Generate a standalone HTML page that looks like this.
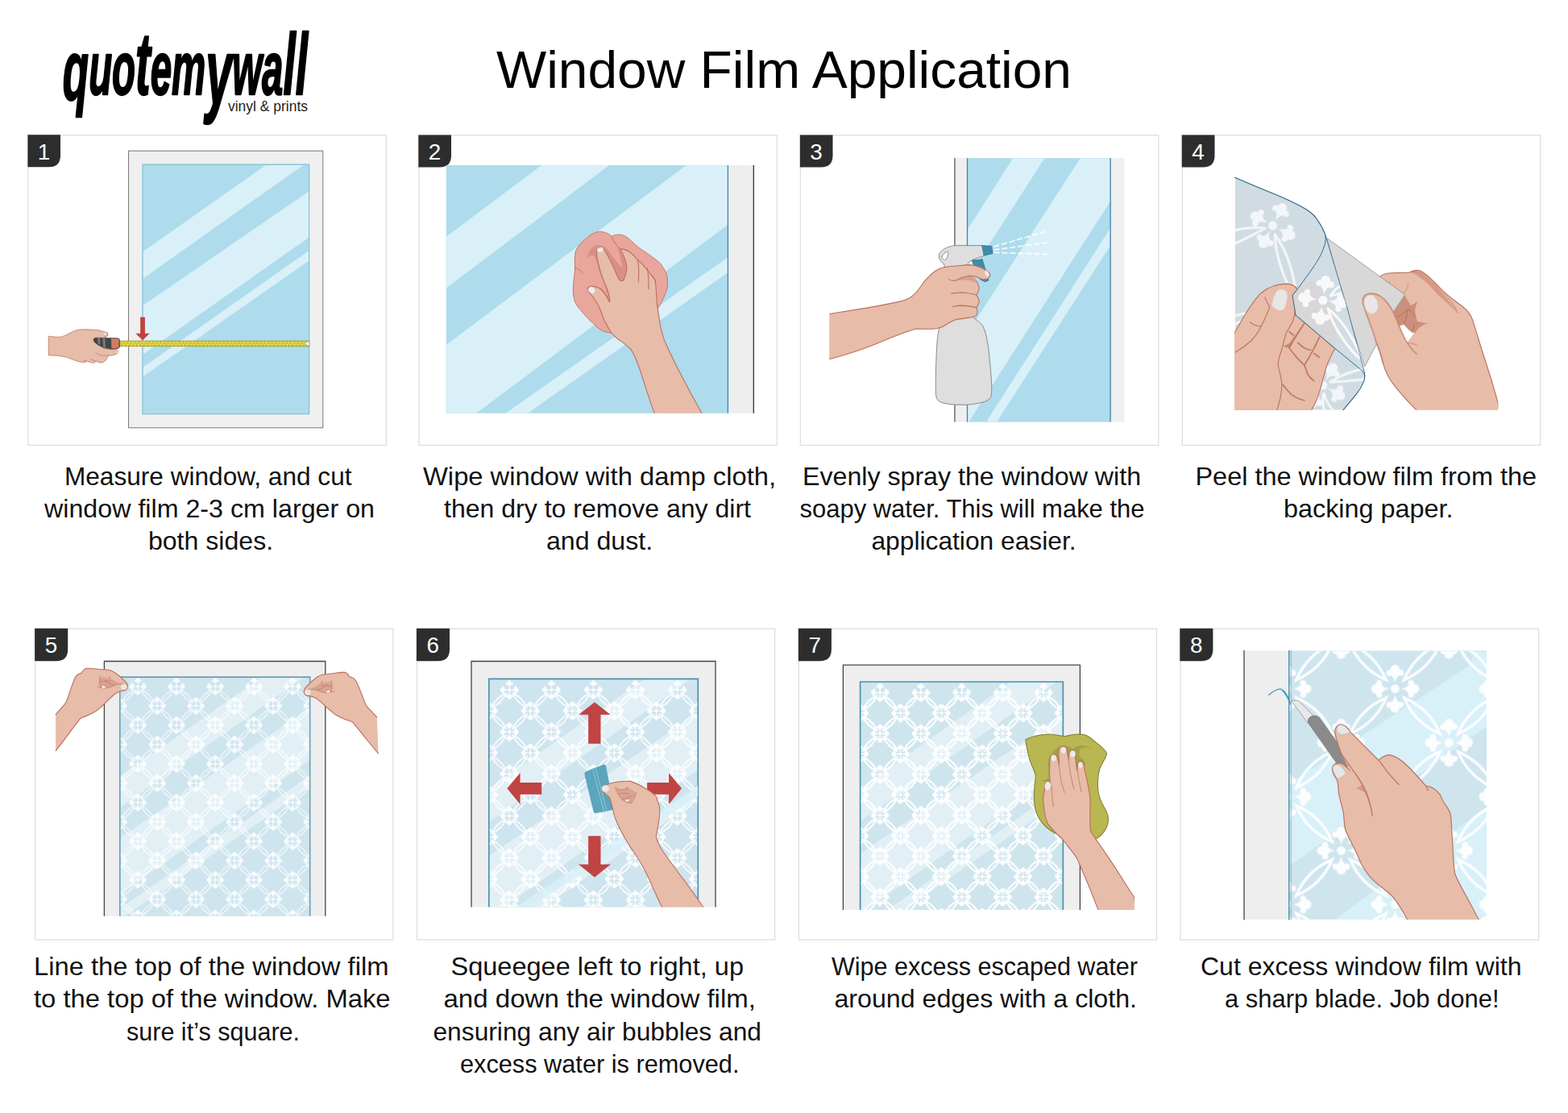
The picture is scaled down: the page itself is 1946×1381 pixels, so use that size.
<!DOCTYPE html>
<html lang="en">
<head>
<meta charset="utf-8">
<title>Window Film Application</title>
<style>
html,body{margin:0;padding:0;background:#fff;}
body{width:1946px;height:1381px;overflow:hidden;}
svg{display:block;}
text{font-family:"Liberation Sans",sans-serif;}
</style>
</head>
<body>
<svg width="1946" height="1381" viewBox="0 0 1946 1381">

<!-- defs -->
<defs>
  <path id="petal" d="M2.5,0 C4.5,-0.4 5.5,-1 6,-2 C5.6,-2.6 5.7,-3.4 6.4,-3.8 C7.2,-4.1 8.1,-3.8 8.4,-3 C8.6,-2.6 8.5,-2.3 8.4,-2 C9.2,-2.2 10.2,-1.6 10.5,-0.8 C10.7,-0.3 10.7,0.3 10.5,0.8 C10.2,1.6 9.2,2.2 8.4,2 C8.5,2.3 8.6,2.6 8.4,3 C8.1,3.8 7.2,4.1 6.4,3.8 C5.7,3.4 5.6,2.6 6,2 C5.5,1 4.5,0.4 2.5,0 Z"/>
  <g id="flower" fill="#fff">
    <circle r="1.95"/>
    <use href="#petal"/>
    <use href="#petal" transform="rotate(90)"/>
    <use href="#petal" transform="rotate(180)"/>
    <use href="#petal" transform="rotate(270)"/>
  </g>
  <g id="flowerS" fill="#fff">
    <circle r="1.8"/>
    <rect x="-6" y="-0.4" width="12" height="0.8"/>
    <rect x="-0.4" y="-6" width="0.8" height="12"/>
    <use href="#petal" transform="scale(1,1.15)"/>
    <use href="#petal" transform="rotate(90) scale(1,1.15)"/>
    <use href="#petal" transform="rotate(180) scale(1,1.15)"/>
    <use href="#petal" transform="rotate(270) scale(1,1.15)"/>
  </g>
  <path id="lens" d="M4,4 A30.2,30.2 0 0 1 20,20 A30.2,30.2 0 0 1 4,4 Z" fill="none" stroke="#fff" stroke-linejoin="miter" stroke-miterlimit="10"/>
  <g id="lenses">
    <use href="#lens"/>
    <use href="#lens" transform="translate(24,24)"/>
    <use href="#lens" transform="translate(48,0) scale(-1,1)"/>
    <use href="#lens" transform="translate(24,24) scale(-1,1)"/>
  </g>
  <g id="tile" stroke-width="1.25">
    <use href="#flower" x="0" y="0"/>
    <use href="#flower" x="48" y="0"/>
    <use href="#flower" x="0" y="48"/>
    <use href="#flower" x="48" y="48"/>
    <use href="#flower" x="24" y="24"/>
    <use href="#lenses"/>
  </g>
  <g id="tileF">
    <use href="#flowerS" x="0" y="0"/>
    <use href="#flowerS" x="48" y="0"/>
    <use href="#flowerS" x="0" y="48"/>
    <use href="#flowerS" x="48" y="48"/>
    <use href="#flowerS" x="24" y="24"/>
  </g>
  <g id="tileL"><use href="#lenses"/></g>
</defs>

<!-- header -->
<g id="logo" transform="translate(77.75,117) scale(0.5099,1)" fill="#000" stroke="#000" stroke-linejoin="round" stroke-width="2.4">
  <text x="0" y="0" font-size="93" font-weight="bold" font-style="italic"><tspan font-size="104" dy="6">q</tspan><tspan dy="-6">uo</tspan><tspan font-size="110">t</tspan>em<tspan font-size="116" dy="13">y</tspan><tspan dy="-13">wa</tspan><tspan font-size="108">ll</tspan></text>
</g>
<text id="logosub" x="283" y="137.5" font-size="19" textLength="99" lengthAdjust="spacingAndGlyphs" fill="#222">vinyl &amp; prints</text>
<text id="title" x="616" y="109" font-size="65.6" textLength="714" lengthAdjust="spacingAndGlyphs" fill="#000">Window Film Application</text>

<!-- p1 -->
<g id="p1">
  <rect x="35" y="167.8" width="444.3" height="384.7" fill="#fff" stroke="#dcdcdc" stroke-width="1.2"/>
  <path d="M34.4,167.2 H75 V193 Q75,207.3 60.5,207.3 H34.4 Z" fill="#2d2d2d"/>
  <text x="54.5" y="197.5" font-size="27.8" fill="#fff" text-anchor="middle">1</text>
  <rect x="159.5" y="187.2" width="241.3" height="343.6" fill="#efefef" stroke="#808080" stroke-width="1.1"/>
  <rect x="176.9" y="204" width="206.8" height="309.7" fill="#aedcec"/>
  <g transform="translate(30,160) scale(0.28966)" fill="#d9f0f8">
    <path d="M1035,155 L1195,155 L510,640 L510,525 Z"/>
    <path d="M1219,268 L1219,465 L510,965 L510,755 Z"/>
    <path d="M1219,522 L1219,565 L510,1060 L510,1020 Z"/>
  </g>
  <rect x="176.9" y="204" width="206.8" height="309.7" fill="none" stroke="#6bb4cf" stroke-width="0.9"/>
  <!-- hand + tape -->
  <g transform="translate(50,380) scale(0.08222)">
    <!-- tape -->
    <rect x="1190" y="523" width="2870" height="82" fill="#e6d83f" stroke="#8f8428" stroke-width="8"/>
    <path d="M1190,564 H4060" stroke="#b5a82e" stroke-width="6" fill="none"/>
    <path d="M1210,528 V556 M1210,572 V600" stroke="#8f8428" stroke-width="9" stroke-dasharray="9 47" fill="none" transform="rotate(0)"/>
    <g stroke="#8f8428" stroke-width="8" fill="none">
      <path d="M1200,538 H4050" stroke-dasharray="8 48" stroke-width="26"/>
      <path d="M1228,592 H4050" stroke-dasharray="8 48" stroke-width="26"/>
    </g>
    <path d="M4060,523 L3975,564 L4060,605 Z" fill="#fff" stroke="#8f8428" stroke-width="7"/>
    <!-- hand -->
    <path d="M125,452 C200,462 270,468 320,462 C400,440 470,380 560,358 C620,345 760,350 850,358 C900,360 960,385 1000,395 C1025,405 1025,445 995,462 L960,470 L960,640 L1150,655 C1185,665 1185,700 1150,720 C1110,740 1060,745 1020,745 C1025,765 1000,810 960,840 C940,852 915,852 900,850 L840,830 C830,850 815,858 800,855 L700,830 C680,845 660,848 640,845 L560,830 C500,810 450,785 400,770 C350,758 300,748 250,745 L125,740 Z" fill="#e7bca9" stroke="#c17f6b" stroke-width="11" stroke-linejoin="round"/>
    <path d="M840,705 C880,725 920,745 950,745 L1020,745 M760,800 L840,830 M660,820 L700,830" fill="none" stroke="#c17f6b" stroke-width="10" stroke-linecap="round"/>
    <!-- case -->
    <path d="M835,476 L1165,482 Q1197,485 1197,512 L1197,608 Q1197,634 1165,638 L1075,646 L960,626 C900,600 830,560 806,522 C798,497 812,479 835,476 Z" fill="#444" stroke="#333" stroke-width="8"/>
    <path d="M862,478 h38 L905,585 L870,565 Z" fill="#7a7a7a"/>
    <path d="M938,480 h40 L985,628 L950,616 Z" fill="#7a7a7a"/>
    <path d="M1070,486 L1165,490 Q1188,492 1188,512 V606 Q1188,628 1165,630 L1075,638 Z" fill="#d57867"/>
    <path d="M960,470 L995,462 C1025,445 1025,405 1000,395" fill="none" stroke="#c17f6b" stroke-width="10"/>
    <path d="M955,412 Q960,398 985,402 Q1003,408 998,425 Q985,432 962,426 Z" fill="#e9e9ee"/>
    <path d="M1150,668 Q1172,672 1170,690 Q1165,708 1148,712 Z" fill="#efe9ea"/>
    <!-- arrow -->
    <path d="M1510,165 H1580 V410 H1648 L1545,515 L1440,410 H1510 Z" fill="#c44040"/>
  </g>
</g>

<!-- p2 -->
<g id="p2">
  <rect x="519.9" y="167.8" width="444.3" height="384.7" fill="#fff" stroke="#dcdcdc" stroke-width="1.2"/>
  <path d="M519.3,167.6 H560 V193 Q560,207.5 545.5,207.5 H519.3 Z" fill="#2d2d2d"/>
  <text x="539.5" y="197.5" font-size="27.8" fill="#fff" text-anchor="middle">2</text>
  <rect x="553.7" y="204.9" width="349.7" height="307.9" fill="#aedcec"/>
  <g transform="translate(510,160) scale(0.28966)" fill="#d9f0f8">
    <path d="M560,155 L850,155 L151,682 L151,462 Z"/>
    <path d="M1180,155 L1358,155 L1358,410 L280,1218 L151,1218 L151,925 Z"/>
    <path d="M1358,550 L1358,615 L500,1218 L405,1218 Z"/>
  </g>
  <rect x="903.4" y="204.9" width="31.9" height="307.9" fill="#eeeeee"/>
  <path d="M903.4,204.9 V512.8" stroke="#3c87ab" stroke-width="1.3" fill="none"/>
  <path d="M935.3,204.9 V512.8" stroke="#333" stroke-width="1.3" fill="none"/>
  <clipPath id="c2"><rect x="553.7" y="204.9" width="349.7" height="307.9"/></clipPath>
  <g clip-path="url(#c2)"><g transform="translate(690,270) scale(0.181)" stroke-linejoin="round" stroke-linecap="round">
    <!-- cloth -->
    <path d="M135,230 C150,195 175,170 200,150 C230,125 260,100 290,97 C320,94 360,105 383,130 C400,115 450,110 480,130 C510,150 535,180 560,200 C590,225 615,235 640,255 C680,285 705,300 720,320 C745,355 765,390 765,430 C768,470 760,495 750,520 C735,560 720,590 700,620 L600,800 L385,790 C360,790 345,785 330,780 C305,770 285,755 270,740 C245,715 220,695 200,670 C165,630 135,600 125,560 C115,520 118,490 120,450 C122,410 132,370 130,330 C128,290 128,260 135,230 Z" fill="#e9a69c" stroke="#c46e61" stroke-width="5"/>
    <path d="M132,345 C150,350 170,362 185,378" fill="none" stroke="#c46e61" stroke-width="5"/>
    <path d="M383,130 C390,160 410,185 440,215" fill="none" stroke="#c46e61" stroke-width="5"/>
    <path d="M212,280 C220,240 240,200 270,192 C300,185 330,195 350,215 C390,260 430,330 470,360 L470,420 L440,440 L370,580 L330,450 C300,400 290,330 262,262 C240,250 225,265 212,280 Z" fill="#d98f85"/>
    <path d="M400,150 C420,200 470,250 485,330 L470,420 C455,300 430,230 400,150 Z" fill="#d98f85"/>
    <!-- hand -->
    <path d="M222,478 C235,468 270,470 295,482 C325,500 350,540 368,578 C372,560 360,500 330,440 C310,390 295,340 285,290 C280,260 275,240 282,222 C292,205 320,205 335,225 C355,260 375,300 390,330 C405,365 420,400 430,420 C438,435 455,440 465,425 C480,390 488,360 485,330 C480,290 460,250 442,215 C470,215 490,225 505,235 C530,255 545,270 560,290 C580,305 595,320 605,335 C620,350 640,375 650,390 C665,405 678,420 680,435 C688,480 688,520 690,560 C692,590 696,615 700,640 C706,680 712,720 720,760 C730,810 745,850 760,880 C830,1030 920,1200 1000,1340 L1040,1420 L700,1420 L675,1340 C655,1290 640,1240 620,1180 C600,1120 580,1050 560,1000 C545,960 530,925 510,900 C490,880 470,865 450,850 C425,835 400,815 380,790 C360,760 345,730 330,700 C318,670 305,630 290,600 C275,570 262,555 250,540 C235,520 222,505 218,495 C215,488 217,482 222,478 Z" fill="#e7bca9" stroke="#b9705d" stroke-width="6"/>
    <path d="M560,290 C572,340 568,400 565,440 M625,345 C636,390 636,450 635,490 M650,390 C670,410 680,420 683,440" fill="none" stroke="#b9705d" stroke-width="6"/>
    <path d="M368,578 C350,540 330,500 300,485" fill="none" stroke="#b9705d" stroke-width="6"/>
    <ellipse cx="303" cy="221" rx="22" ry="15" fill="#ededed" transform="rotate(-20 303 221)"/>
    <ellipse cx="245" cy="497" rx="24" ry="20" fill="#ededed" transform="rotate(40 245 497)"/>
  </g></g>
</g>

<!-- p3 -->
<g id="p3">
  <rect x="993.4" y="167.8" width="444.4" height="384.7" fill="#fff" stroke="#dcdcdc" stroke-width="1.2"/>
  <path d="M992.8,167.6 H1033.5 V193 Q1033.5,207.5 1019,207.5 H992.8 Z" fill="#2d2d2d"/>
  <text x="1013" y="197.5" font-size="27.8" fill="#fff" text-anchor="middle">3</text>
  <rect x="1184.9" y="196.2" width="210.6" height="327.4" fill="#efefef"/>
  <rect x="1200.5" y="196.2" width="177.6" height="327.4" fill="#aedcec"/>
  <clipPath id="c3"><rect x="1200.5" y="196.2" width="177.6" height="327.4"/></clipPath>
  <g clip-path="url(#c3)"><g transform="translate(985,160) scale(0.28966)" fill="#d9f0f8">
    <path d="M940,125 L1075,125 L744,640 L744,432 Z"/>
    <path d="M1228,125 L1357,125 L1357,310 L750,1255 L744,1255 L744,875 Z"/>
    <path d="M1357,425 L1357,500 L870,1255 L825,1255 Z"/>
  </g></g>
  <path d="M1184.9,196.2 V523.6" stroke="#555" stroke-width="1.3" fill="none"/>
  <path d="M1200.5,196.2 V523.6 M1378.1,196.2 V523.6" stroke="#3c87ab" stroke-width="1.3" fill="none"/>
  <clipPath id="c3h"><rect x="1029.2" y="190" width="400" height="333.6"/></clipPath>
  <g clip-path="url(#c3h)"><g transform="translate(1020,280) scale(0.16658)" stroke-linejoin="round" stroke-linecap="round">
    <!-- spray -->
    <g fill="none" stroke="#fff" stroke-width="11" stroke-dasharray="34 26" opacity="0.85">
      <path d="M1285,155 L1665,45"/>
      <path d="M1285,180 L1690,125"/>
      <path d="M1285,200 L1690,213"/>
    </g>
    <!-- trigger -->
    <path d="M1120,258 L1195,250 L1242,408 L1215,418 L1180,400 L1130,290 Z" fill="#3d8cab" stroke="#2f7794" stroke-width="5"/>
    <!-- bottle -->
    <path d="M905,282 C880,262 868,240 872,220 C880,190 910,170 940,160 C965,152 985,148 1000,148 L1195,148 L1210,222 C1190,235 1150,240 1120,255 C1100,265 1090,275 1085,290 L1090,660 C1110,670 1125,680 1135,690 C1165,710 1190,730 1200,750 C1215,780 1225,820 1230,850 C1240,900 1246,950 1250,1000 C1258,1080 1266,1160 1265,1220 C1264,1260 1260,1280 1250,1290 C1235,1305 1210,1313 1180,1320 C1135,1330 1090,1335 1040,1335 C990,1335 940,1330 900,1320 C875,1313 860,1300 855,1285 C848,1265 848,1240 848,1220 C847,1160 848,1100 850,1050 C852,980 855,910 860,850 C864,815 868,785 875,760 L915,310 Z" fill="#dedede" stroke="#777" stroke-width="5"/>
    <path d="M893,232 C905,212 920,198 935,192 C942,198 942,208 940,215 C937,230 932,242 925,250 C918,256 910,256 906,250 C898,245 893,240 893,232 Z" fill="#fff" stroke="#777" stroke-width="5"/>
    <path d="M1195,148 L1265,152 L1272,208 L1210,222 Z" fill="#3d8cab" stroke="#2f7794" stroke-width="5"/>
    <!-- hand -->
    <path d="M-20,669 L55,657 C150,642 250,626 350,610 C430,596 510,580 580,565 C610,558 632,550 650,540 C670,528 686,514 700,500 C720,476 740,448 760,420 C790,385 820,355 850,335 C866,324 882,316 900,312 C930,306 965,302 1000,300 C1035,297 1070,292 1100,292 C1130,294 1156,300 1180,310 C1205,320 1225,332 1240,345 C1252,355 1256,366 1252,375 C1248,386 1242,392 1235,395 C1224,400 1212,402 1200,400 C1183,395 1166,386 1150,380 C1130,375 1110,374 1090,375 L1140,400 C1152,412 1160,426 1165,440 C1170,455 1172,468 1170,480 C1166,495 1158,506 1150,515 C1158,522 1162,530 1165,540 C1170,550 1174,560 1172,570 C1168,586 1160,600 1150,610 C1156,620 1160,630 1160,640 C1160,652 1156,662 1150,670 C1135,678 1118,682 1100,685 C1066,690 1030,693 1000,700 C975,708 952,722 930,735 C914,745 898,754 880,760 C860,767 840,770 820,770 L700,768 C630,790 566,814 500,840 C434,868 366,896 300,920 C220,948 138,972 55,995 L-20,1015 Z" fill="#e7bca9" stroke="#b9705d" stroke-width="6.5"/>
    <path d="M1010,408 C1040,395 1065,385 1090,375 C1110,374 1130,380 1150,400 L1140,430 C1120,405 1080,400 1010,408 Z" fill="#d9a08d"/>
    <path d="M945,400 C960,408 975,412 990,410 C1010,405 1030,392 1050,385 C1066,378 1082,375 1100,375 M965,505 C995,500 1022,498 1050,498 C1085,500 1120,508 1150,515 M975,603 C1000,598 1025,595 1050,595 C1085,597 1120,603 1150,610" fill="none" stroke="#b9705d" stroke-width="6.5"/>
    <ellipse cx="1230" cy="358" rx="14" ry="22" fill="#ededed" transform="rotate(-25 1230 358)"/>
  </g></g>
  </g>

<!-- p4 -->
<g id="p4">
  <rect x="1467.3" y="167.8" width="444.3" height="384.7" fill="#fff" stroke="#dcdcdc" stroke-width="1.2"/>
  <path d="M1466.7,167.6 H1507.5 V193 Q1507.5,207.5 1493,207.5 H1466.7 Z" fill="#2d2d2d"/>
  <text x="1487" y="197.5" font-size="27.8" fill="#fff" text-anchor="middle">4</text>
  <clipPath id="c4"><rect x="1532.7" y="205" width="326.7" height="303.8"/></clipPath>
  <g clip-path="url(#c4)" stroke-linejoin="round" stroke-linecap="round">
    <!-- right hand back -->
    <g transform="translate(1680,320) scale(0.14116)">
      <path d="M215,180 C240,150 280,135 330,133 L490,128 C520,110 560,105 590,115 C640,140 700,200 760,265 C820,330 900,385 960,430 C1000,460 1030,500 1045,545 C1080,650 1110,760 1150,880 C1190,1000 1230,1130 1268,1270 L1300,1400 L600,1400 L550,1335 C500,1290 440,1220 380,1150 C330,1090 280,1010 260,930 C245,870 225,800 200,750 L150,400 Z" fill="#e7bca9" stroke="#b9705d" stroke-width="8"/>
      <path d="M500,124 C540,120 575,122 600,135 C660,180 710,235 760,290 C810,345 865,410 915,485 C850,420 790,370 740,320 C680,260 620,180 500,124 Z" fill="#d49a86"/>
      <path d="M500,124 C560,112 600,125 640,160 C700,215 740,270 790,315 C830,350 880,400 915,485" fill="none" stroke="#b9705d" stroke-width="5"/>
      <path d="M440,310 L500,420 L565,385 C545,420 538,450 540,480 C545,510 552,535 560,560 L650,575 C620,585 598,596 580,610 C565,625 552,642 540,660 L490,640 L440,585 L400,600 L350,470 Z" fill="#cc8f7b"/>
      <path d="M400,600 L440,585 C460,610 475,628 490,640 L530,665 C510,690 490,718 470,745 C455,720 446,705 440,690 Z" fill="#fff"/>
      <path d="M380,520 C420,500 450,480 475,450 M475,450 C500,470 530,490 545,520 M475,450 C470,500 460,540 440,585 M530,590 C528,620 520,640 510,655" fill="none" stroke="#b06a58" stroke-width="6"/>
      <path d="M470,745 C500,748 530,756 555,765 M480,230 C478,260 465,285 440,310 M316,210 L320,240" fill="none" stroke="#c98672" stroke-width="6"/>
    </g>
    <g transform="translate(1520,200) scale(0.23166)">
      <!-- paper -->
      <path d="M548,412 L965,715 L905,805 L750,1100 L640,750 Z" fill="#d8d8d8" stroke="#9c9c9c" stroke-width="4"/>
      <!-- film main -->
      <clipPath id="c4f"><path d="M55,87 C140,125 230,160 300,190 C350,212 400,236 440,260 C470,280 488,298 500,320 C520,350 533,375 540,400 L588,561 L657,792 L744,1116 C752,1140 752,1160 745,1180 C735,1205 720,1230 704,1249 L634,1333 L55,1333 Z"/></clipPath>
      <path d="M55,87 C140,125 230,160 300,190 C350,212 400,236 440,260 C470,280 488,298 500,320 C520,350 533,375 540,400 L588,561 L657,792 L744,1116 C752,1140 752,1160 745,1180 C735,1205 720,1230 704,1249 L634,1333 L55,1333 Z" fill="#d0dce2"/>
      <g clip-path="url(#c4f)" opacity="0.74">
        <g transform="translate(257.6,345.2) rotate(28) scale(12.5)"><use href="#flower"/></g>
        <path d="M214,358 Q120,350 45,373 M214,360 Q140,402 45,445" fill="none" stroke="#fff" stroke-width="14"/>
        <path d="M268,392 Q272,520 342,670 M268,392 Q348,500 376,670" fill="none" stroke="#fff" stroke-width="14"/>
        <path d="M55,828 Q100,812 150,815 M55,872 Q100,848 150,838" fill="none" stroke="#fff" stroke-width="13"/>
        <g transform="translate(525.8,1200.5) rotate(30) scale(12.5)"><use href="#flower"/></g>
        <path d="M566,1181 Q652,1129 745,1112 M566,1183 Q652,1180 745,1168" fill="none" stroke="#fff" stroke-width="14"/>
        <path d="M532,1245 Q545,1300 590,1345 M528,1245 Q522,1300 535,1345" fill="none" stroke="#fff" stroke-width="13"/>
      </g>
      <path d="M55,87 C140,125 230,160 300,190 C350,212 400,236 440,260 C470,280 488,298 500,320 C520,350 533,375 540,400 L588,561 L657,792 L744,1116 C752,1140 752,1160 745,1180 C735,1205 720,1230 704,1249 L634,1333" fill="none" stroke="#24627f" stroke-width="4.5"/>
    </g>
    <!-- left hand -->
    <g transform="translate(1525,330) scale(0.13393)">
      <path d="M400,630 L620,455 L985,765 C965,795 950,825 940,850 C922,885 910,918 900,950 C885,1000 872,1050 860,1100 C845,1150 828,1205 810,1250 L745,1380 L300,1380 Z" fill="#e7bca9" stroke="#b9705d" stroke-width="8"/>
      <path d="M700,530 C665,585 630,640 600,690 C585,715 572,740 560,760 C540,760 520,752 500,740 C530,735 555,725 570,705 C610,650 650,590 700,530 Z" fill="#c98672"/>
      <path d="M700,530 C665,585 630,640 600,690 L560,760 C590,800 615,832 640,860 C660,880 680,900 700,920 C712,945 722,972 730,1000 C745,1025 765,1048 790,1065 M700,920 C725,880 748,840 770,800 C795,755 818,708 840,660 M640,710 C660,732 680,748 700,760 C720,770 740,777 760,780 M560,610 L600,640 M790,810 L840,845 M500,1100 C525,1135 552,1165 580,1190 C620,1220 660,1238 700,1245" fill="none" stroke="#c07a66" stroke-width="13"/>
      <path d="M60,610 C120,500 200,350 300,250 C360,200 450,165 540,165 C590,170 620,190 635,215 L590,275 C605,300 615,340 615,380 C615,440 605,480 590,520 C570,560 545,590 530,630 C510,690 500,740 490,780 C470,830 455,870 458,920 C465,980 490,1030 492,1100 C490,1200 470,1280 430,1380 L0,1380 L0,700 Z" fill="#e7bca9" stroke="#b9705d" stroke-width="8"/>
      <path d="M60,800 C110,770 160,735 200,700 C240,660 275,612 300,560 C330,500 360,440 380,380 C360,350 345,320 335,290 M195,520 C215,535 232,545 250,550 C268,556 285,560 300,560" fill="none" stroke="#b9705d" stroke-width="8"/>
      <path d="M400,365 C405,320 420,270 445,235 C465,215 490,212 510,222 C535,235 545,260 542,290 C538,330 528,365 515,395 C500,410 480,414 460,410 C435,400 412,385 400,365 Z" fill="#e6e6e6"/>
    </g>
    <!-- peeled corner -->
    <g transform="translate(1520,200) scale(0.23166)">
      <clipPath id="c4p"><path d="M540,400 C546,440 520,500 480,560 C440,620 400,670 363,720 L380,824 L591,1003 L715,1105 C735,1120 748,1135 751,1151 L744,1116 L657,792 L588,561 Z"/></clipPath>
      <path d="M363,720 C380,690 400,665 440,650 C470,640 500,655 515,680 C530,720 560,760 580,800 C600,850 605,900 600,950 L591,1003 L380,824 Z" fill="#dccccc"/>
      <path d="M540,400 C546,440 520,500 480,560 C440,620 400,670 363,720 L380,824 L591,1003 L715,1105 C735,1120 748,1135 751,1151 L744,1116 L657,792 L588,561 Z" fill="#d3dee4" opacity="0.55"/>
      <g clip-path="url(#c4p)" opacity="0.82">
        <g transform="translate(525.8,745.4) rotate(8) scale(12.5)"><use href="#flower"/></g>
        <path d="M553,790 C580,889 652,987 717,1053 M553,790 C630,850 685,943 730,1042" fill="none" stroke="#fff" stroke-width="14"/>
        <path d="M566,718 Q590,690 612,672 M568,722 Q600,712 622,706" fill="none" stroke="#fff" stroke-width="12"/>
      </g>
      <path d="M540,400 C546,440 520,500 480,560 C440,620 400,670 363,720 L380,824 L591,1003 L715,1105 C735,1120 748,1135 751,1151" fill="none" stroke="#24627f" stroke-width="4"/>
    </g>
    <!-- right thumb -->
    <g transform="translate(1680,320) scale(0.14116)">
      <path d="M555,845 C535,830 520,815 510,800 C495,782 482,765 470,745 C458,725 448,708 440,690 C425,660 412,630 400,600 C385,560 368,520 350,480 C335,450 318,425 300,400 C282,375 262,355 240,340 C220,325 200,318 180,315 C162,313 145,313 130,315 C112,320 98,328 90,340 C80,355 78,372 80,390 C83,408 88,425 95,440 C105,475 117,508 130,540 C142,578 155,615 170,650 C180,685 190,718 200,750 C225,800 245,870 260,930 L700,900 Z" fill="#e7bca9"/>
      <path d="M555,845 C535,830 520,815 510,800 C495,782 482,765 470,745 C458,725 448,708 440,690 C425,660 412,630 400,600 C385,560 368,520 350,480 C335,450 318,425 300,400 C282,375 262,355 240,340 C220,325 200,318 180,315 C162,313 145,313 130,315 C112,320 98,328 90,340 C80,355 78,372 80,390 C83,408 88,425 95,440 C105,475 117,508 130,540 C142,578 155,615 170,650 C180,685 190,718 200,750 C225,800 245,870 260,930" fill="none" stroke="#b9705d" stroke-width="8"/>
      <ellipse cx="152" cy="408" rx="60" ry="82" fill="#e8e8e8" transform="rotate(-12 152 408)"/>
    </g>
  </g>
</g>

<!-- p5 -->
<g id="p5" stroke-linejoin="round" stroke-linecap="round">
<rect x="43.7" y="780.2" width="444.2" height="385.9" fill="#fff" stroke="#dcdcdc" stroke-width="1.2"/>
<path d="M43.1,779.8 h41.1 v26 q0,14.4 -14.5,14.4 h-26.6 Z" fill="#2d2d2d"/>
<text x="63.5" y="809.9" font-size="27.8" fill="#fff" text-anchor="middle">5</text>
<rect x="129.4" y="820.5" width="274.4" height="316.3" fill="#eeeeee"/>
<path d="M129.4,1136.8 V820.5 H403.8 V1136.8" fill="none" stroke="#444" stroke-width="1.3" stroke-linejoin="miter" stroke-linecap="butt"/>
<clipPath id="cf5"><rect x="148.8" y="840.1" width="235.9" height="296.7"/></clipPath>
<rect x="148.8" y="840.1" width="235.9" height="296.7" fill="#cee5ee"/>
<g clip-path="url(#cf5)"><g transform="translate(148.8,840.1) scale(1.1407) translate(-176.9,-204)" fill="#e2f0f6">
<g transform="translate(30,160) scale(0.28966)"><path d="M1035,155 L1195,155 L510,640 L510,525 Z"/><path d="M1219,268 L1219,465 L510,965 L510,755 Z"/><path d="M1219,522 L1219,565 L510,1060 L510,1020 Z"/></g></g>
<pattern id="patF5" width="48" height="48" patternUnits="userSpaceOnUse" patternTransform="translate(171.10,851.80) scale(1.0000)"><use href="#tileF"/></pattern>
<pattern id="patL5" width="48" height="48" patternUnits="userSpaceOnUse" patternTransform="translate(171.10,851.80) scale(1.0000)"><use href="#tileL" stroke-width="1.20"/></pattern>
<g opacity="0.88"><rect x="148.8" y="840.1" width="235.9" height="296.7" fill="url(#patF5)"/><rect x="148.8" y="853.3" width="235.9" height="283.5" fill="url(#patL5)"/></g></g>
<path d="M148.8,1136.8 V840.1 H384.7 V1136.8" fill="none" stroke="#6a9db3" stroke-width="1.6" stroke-linejoin="miter" stroke-linecap="butt"/>
<g transform="translate(60,810) scale(0.10139)"><path d="M90,755 C130,710 170,665 200,630 C225,600 240,550 255,500 C280,430 300,360 330,300 C345,275 370,255 410,245 C420,215 445,195 470,190 C520,190 600,200 680,205 C730,205 770,215 800,235 C850,265 900,310 940,350 C960,370 975,395 970,420 C965,445 945,460 920,462 C880,465 850,480 820,500 C780,530 740,570 700,610 C660,650 620,690 580,715 C530,745 480,770 430,785 L390,805 C330,880 280,950 220,1030 C180,1085 130,1150 90,1200" fill="#e7bca9" stroke="#b9705d" stroke-width="11"/>
<path d="M635,300 C690,300 740,305 760,312 C800,330 850,365 890,380 C850,385 800,400 760,420 C720,435 680,440 640,425 C620,400 618,350 635,300 Z" fill="#d9a391"/>
<path d="M632,285 C622,330 622,380 640,420 C625,428 612,425 598,415 M640,425 C690,440 730,432 770,415 C810,395 860,382 905,378 M745,285 L755,312 M640,355 C680,345 720,340 760,345 M690,340 C720,360 760,385 800,392" fill="none" stroke="#c07a66" stroke-width="8"/>
<path d="M655,405 L700,420 L690,432 L660,430 Z" fill="#fff"/>
<ellipse cx="925" cy="420" rx="38" ry="32" fill="#e6e6e6"/></g>
<g transform="rotate(-2.2 381.9 859.2) translate(535.7,6.6) scale(-1,1) translate(60,810) scale(0.10139)"><path d="M90,755 C130,710 170,665 200,630 C225,600 240,550 255,500 C280,430 300,360 330,300 C345,275 370,255 410,245 C420,215 445,195 470,190 C520,190 600,200 680,205 C730,205 770,215 800,235 C850,265 900,310 940,350 C960,370 975,395 970,420 C965,445 945,460 920,462 C880,465 850,480 820,500 C780,530 740,570 700,610 C660,650 620,690 580,715 C530,745 480,770 430,785 L390,805 C330,880 280,950 220,1030 C180,1085 130,1150 90,1200" fill="#e7bca9" stroke="#b9705d" stroke-width="11"/>
<path d="M635,300 C690,300 740,305 760,312 C800,330 850,365 890,380 C850,385 800,400 760,420 C720,435 680,440 640,425 C620,400 618,350 635,300 Z" fill="#d9a391"/>
<path d="M632,285 C622,330 622,380 640,420 C625,428 612,425 598,415 M640,425 C690,440 730,432 770,415 C810,395 860,382 905,378 M745,285 L755,312 M640,355 C680,345 720,340 760,345 M690,340 C720,360 760,385 800,392" fill="none" stroke="#c07a66" stroke-width="8"/>
<path d="M655,405 L700,420 L690,432 L660,430 Z" fill="#fff"/>
<ellipse cx="925" cy="420" rx="38" ry="32" fill="#e6e6e6"/></g>
</g>

<!-- p6 -->
<g id="p6" stroke-linejoin="round" stroke-linecap="round">
<rect x="517.5" y="780.2" width="444.1" height="385.9" fill="#fff" stroke="#dcdcdc" stroke-width="1.2"/>
<path d="M516.9,779.8 h41.1 v26 q0,14.4 -14.5,14.4 h-26.6 Z" fill="#2d2d2d"/>
<text x="537.3" y="809.9" font-size="27.8" fill="#fff" text-anchor="middle">6</text>
<rect x="585.0" y="820.5" width="303.0" height="305.0" fill="#eeeeee"/>
<path d="M585.0,1125.5 V820.5 H888.0 V1125.5" fill="none" stroke="#444" stroke-width="1.3" stroke-linejoin="miter" stroke-linecap="butt"/>
<clipPath id="cf6"><rect x="606.8" y="842.3" width="259.5" height="283.2"/></clipPath>
<rect x="606.8" y="842.3" width="259.5" height="283.2" fill="#cee5ee"/>
<g clip-path="url(#cf6)"><g transform="translate(606.8,842.3) scale(1.2548) translate(-176.9,-204)" fill="#e2f0f6">
<g transform="translate(30,160) scale(0.28966)"><path d="M1035,155 L1195,155 L510,640 L510,525 Z"/><path d="M1219,268 L1219,465 L510,965 L510,755 Z"/><path d="M1219,522 L1219,565 L510,1060 L510,1020 Z"/></g></g>
<pattern id="patF6" width="48" height="48" patternUnits="userSpaceOnUse" patternTransform="translate(632.20,856.00) scale(1.0860)"><use href="#tileF"/></pattern>
<pattern id="patL6" width="48" height="48" patternUnits="userSpaceOnUse" patternTransform="translate(632.20,856.00) scale(1.0860)"><use href="#tileL" stroke-width="1.60"/></pattern>
<g opacity="0.93"><rect x="606.8" y="842.3" width="259.5" height="283.2" fill="url(#patF6)"/><rect x="606.8" y="857.6" width="259.5" height="267.9" fill="url(#patL6)"/></g></g>
<path d="M606.8,1125.5 V842.3 H866.3 V1125.5" fill="none" stroke="#4a93ad" stroke-width="1.7" stroke-linejoin="miter" stroke-linecap="butt"/>
<g clip-path="url(#cf6)"><path d="M866.3,975 L866.3,988 L660,1125.5 L640,1125.5 Z" fill="#d8f0f8" opacity="0.85"/></g>
<g transform="translate(510,775) scale(0.28966)" fill="#c04444">
  <path d="M787,332 L855,386 H813 V510 H760 V386 H719 Z"/>
  <path d="M787,1082 L718,1027 H760 V905 H813 V1027 H856 Z"/>
  <path d="M412,702 L468,635 V677 H560 V728 H468 V770 Z"/>
  <path d="M1160,702 L1105,635 V677 H1012 V728 H1105 V770 Z"/>
</g>
<clipPath id="c6h"><rect x="600" y="830" width="300" height="295.5"/></clipPath>
<g clip-path="url(#c6h)"><g transform="translate(710,930) scale(0.14481)">
  <path d="M118,188 L268,130 Q285,124 290,142 L362,515 L205,545 Q188,548 183,530 L106,212 Q102,195 118,188 Z" fill="#5ba5bd"/>
  <path d="M175,165 L275,535 M200,155 L298,528" fill="none" stroke="#7fc0d4" stroke-width="9"/>
  <path d="M255,350 C250,320 270,300 300,300 L330,290 C380,275 440,268 500,272 C540,285 590,310 640,340 C680,365 715,390 725,410 C728,440 740,460 748,480 C755,520 750,560 745,600 C740,650 730,700 720,740 C725,780 745,820 770,860 C830,950 900,1040 960,1120 C1020,1200 1075,1280 1125,1350 L1150,1400 L790,1400 L770,1350 C740,1290 700,1200 660,1110 C620,1020 590,970 550,910 C500,840 450,760 420,700 C390,640 365,590 355,540 C345,490 335,440 320,410 C300,390 270,370 255,350 Z" fill="#e7bca9" stroke="#b9705d" stroke-width="7.5"/>
  <path d="M372,328 C400,345 430,350 465,335 L475,320 C500,340 530,355 550,370 C545,400 530,430 505,460 C480,455 450,445 430,430 C405,400 385,365 372,328 Z" fill="#d9a391"/>
  <path d="M370,325 C385,370 405,405 430,430 C455,448 480,458 505,460 M550,368 C545,400 530,432 505,460 M372,328 C400,345 430,350 465,335 M468,322 L475,345 M400,380 C430,375 460,372 490,378 M430,430 C460,420 490,405 520,400" fill="none" stroke="#c07a66" stroke-width="5"/>
  <path d="M455,432 L490,432 L480,445 L462,442 Z" fill="#fff"/>
  <ellipse cx="285" cy="335" rx="32" ry="30" fill="#e8e8e8"/>
</g></g>
</g>

<!-- p7 -->
<g id="p7" stroke-linejoin="round" stroke-linecap="round">
<rect x="991.4" y="780.2" width="444.1" height="385.9" fill="#fff" stroke="#dcdcdc" stroke-width="1.2"/>
<path d="M990.8,779.8 h41.1 v26 q0,14.4 -14.5,14.4 h-26.6 Z" fill="#2d2d2d"/>
<text x="1011.2" y="809.9" font-size="27.8" fill="#fff" text-anchor="middle">7</text>
<rect x="1046.4" y="825.1" width="294.0" height="303.9" fill="#eeeeee"/>
<path d="M1046.4,1129.0 V825.1 H1340.4 V1129.0" fill="none" stroke="#444" stroke-width="1.3" stroke-linejoin="miter" stroke-linecap="butt"/>
<clipPath id="cf7"><rect x="1067.6" y="846.0" width="251.7" height="283.0"/></clipPath>
<rect x="1067.6" y="846.0" width="251.7" height="283.0" fill="#cee5ee"/>
<g clip-path="url(#cf7)"><g transform="translate(1067.6,846.0) scale(1.2171) translate(-176.9,-204)" fill="#e2f0f6">
<g transform="translate(30,160) scale(0.28966)"><path d="M1035,155 L1195,155 L510,640 L510,525 Z"/><path d="M1219,268 L1219,465 L510,965 L510,755 Z"/><path d="M1219,522 L1219,565 L510,1060 L510,1020 Z"/></g></g>
<pattern id="patF7" width="48" height="48" patternUnits="userSpaceOnUse" patternTransform="translate(1092.20,859.40) scale(1.0570)"><use href="#tileF"/></pattern>
<pattern id="patL7" width="48" height="48" patternUnits="userSpaceOnUse" patternTransform="translate(1092.20,859.40) scale(1.0570)"><use href="#tileL" stroke-width="2.00"/></pattern>
<g opacity="1.00"><rect x="1067.6" y="846.0" width="251.7" height="283.0" fill="url(#patF7)"/><rect x="1067.6" y="861.0" width="251.7" height="268.0" fill="url(#patL7)"/></g></g>
<path d="M1067.6,1129.0 V846.0 H1319.3 V1129.0" fill="none" stroke="#4a93ad" stroke-width="1.7" stroke-linejoin="miter" stroke-linecap="butt"/>
<clipPath id="c7h"><rect x="1260" y="890" width="148" height="239"/></clipPath>
<g clip-path="url(#c7h)"><g transform="translate(1260,900) scale(0.17021)">
  <path d="M75,105 C110,85 180,68 240,65 C290,62 330,85 370,78 C420,65 470,60 510,70 C540,80 560,100 590,125 C620,150 650,170 668,205 C660,240 630,280 615,320 C600,370 600,430 605,480 C612,540 640,580 665,630 C685,670 680,710 665,745 C645,785 620,810 595,825 L450,850 L310,795 C270,780 230,750 200,715 C170,680 145,630 140,570 C135,500 140,440 148,380 C150,340 130,320 115,280 C95,230 85,170 75,105 Z" fill="#b9b752" stroke="#7f7c2c" stroke-width="6"/>
  <path d="M240,300 C235,260 245,225 270,200 C290,170 320,150 350,145 C380,145 400,160 420,170 C445,150 475,145 500,148 C520,150 545,158 560,165 C530,160 500,160 480,170 C460,185 465,220 480,240 C500,245 510,260 510,290 L250,420 C220,405 200,405 185,405 C210,400 235,395 245,380 Z" fill="#a3a143"/>
  <path d="M215,470 C205,500 200,530 205,560 C210,620 215,680 240,720 C270,760 310,800 345,830 C380,880 420,920 450,970 C480,1040 520,1130 560,1230 L605,1345 L640,1420 L900,1420 L865,1250 C800,1150 720,1020 650,920 C610,860 570,810 550,770 C540,700 550,600 545,520 C535,450 520,380 505,320 C500,290 495,270 480,262 C465,258 455,270 455,290 L450,330 C445,290 440,240 435,200 C430,180 415,175 400,185 C390,200 388,220 390,250 C385,220 380,190 370,165 C360,150 340,148 325,160 C315,180 315,210 318,240 L320,290 C315,260 310,235 300,220 C285,210 265,215 255,235 C250,270 250,320 250,370 L255,420 C250,405 240,400 230,405 C218,415 212,440 215,470 Z" fill="#e7bca9" stroke="#b9705d" stroke-width="6.5"/>
  <path d="M320,290 C322,330 328,370 335,400 C342,435 350,465 360,490 M390,250 C392,290 398,330 405,360 C412,400 420,435 428,465 M455,330 C456,355 460,380 465,400 C470,430 476,460 482,485 M265,440 C266,470 268,495 270,520 C272,545 275,570 278,590" fill="none" stroke="#c07a66" stroke-width="5"/>
  <ellipse cx="280" cy="238" rx="19" ry="23" fill="#ebebeb"/>
  <ellipse cx="352" cy="182" rx="19" ry="23" fill="#ebebeb"/>
  <ellipse cx="420" cy="208" rx="19" ry="23" fill="#ebebeb"/>
  <ellipse cx="476" cy="290" rx="17" ry="21" fill="#ebebeb"/>
  <ellipse cx="236" cy="442" rx="22" ry="31" fill="#ebebeb" transform="rotate(8 236 442)"/>
</g></g>
</g>

<!-- p8 -->
<g id="p8" stroke-linejoin="round" stroke-linecap="round">
<rect x="1464.9" y="780.2" width="444.7" height="385.9" fill="#fff" stroke="#dcdcdc" stroke-width="1.2"/>
<path d="M1464.3,779.8 h41.1 v26 q0,14.4 -14.5,14.4 h-26.6 Z" fill="#2d2d2d"/>
<text x="1484.7" y="809.9" font-size="27.8" fill="#fff" text-anchor="middle">8</text>
<rect x="1544" y="807.4" width="56" height="333.5" fill="#eeeeee"/>
<path d="M1544,807.4 V1140.9" stroke="#444" stroke-width="1.3" fill="none"/>
<clipPath id="cf8"><rect x="1599.6" y="807.4" width="245.4" height="333.5"/></clipPath>
<rect x="1599.6" y="807.4" width="245.4" height="333.5" fill="#cee5ee"/>
<g clip-path="url(#cf8)">
  <g transform="translate(1590,800) scale(0.24975)" fill="#d8f0f8">
    <path d="M1030,20 L1030,400 L40,1100 L40,690 L940,100 L965,20 Z"/>
    <path d="M1030,800 L1030,1380 L250,1380 Z"/>
  </g>
  <pattern id="pat8" width="48" height="48" patternUnits="userSpaceOnUse" patternTransform="translate(1731.4,854.7) scale(2.7875)"><use href="#tile"/></pattern>
  <rect x="1599.6" y="807.4" width="245.4" height="333.5" fill="url(#pat8)" opacity="0.92"/>
</g>
<path d="M1599.8,807.4 V1140.9" stroke="#3b8db0" stroke-width="1.4" fill="none"/>
<path d="M1602.3,807.4 V1140.9" stroke="#8fb5c4" stroke-width="1" fill="none"/>
<g transform="translate(1460,775) scale(0.28966)">
  <path d="M395,302 C415,285 435,275 448,276 C465,282 480,310 490,342 M448,276 C465,290 478,315 486,335" fill="none" stroke="#3f9abb" stroke-width="4"/>
  <path d="M492,325 L522,325 L592,395 L565,422 Z" fill="#e8e8e8" stroke="#999" stroke-width="3"/>
  <path d="M565,420 Q560,400 580,392 Q598,386 612,398 L760,605 L700,612 Z" fill="#8a8a8a" stroke="#7a7a7a" stroke-width="3"/>
</g>
<g clip-path="url(#cf8)"><g transform="translate(1640,880) scale(0.19197)">
  <path d="M100,455 C80,430 68,400 70,375 C80,355 100,345 130,350 C150,360 170,380 190,400 L250,470 L200,560 L110,520 C108,490 105,470 100,455 Z" fill="#e7bca9" stroke="#b9705d" stroke-width="6"/>
  <path d="M88,150 C85,125 100,100 125,98 C150,100 175,125 190,150 C230,190 290,250 370,330 C390,310 415,295 440,295 C480,300 520,330 560,370 C600,410 640,455 675,495 C710,500 745,520 765,550 C780,575 785,600 800,615 C820,640 835,670 838,700 C842,770 845,840 850,900 C852,960 855,1010 862,1060 C880,1110 910,1160 940,1215 C965,1260 990,1310 1018,1360 L1050,1420 L590,1420 L555,1360 C530,1310 500,1260 460,1210 C420,1170 370,1140 330,1100 C290,1060 260,1010 240,960 C215,900 180,840 155,780 C145,740 148,700 140,660 C130,610 110,560 110,520 L190,400 C170,370 150,330 130,290 C110,240 95,195 88,150 Z" fill="#e7bca9"/>
  <path d="M110,520 C110,560 130,610 140,660 C148,700 145,740 155,780 C180,840 215,900 240,960 C260,1010 290,1060 330,1100 C370,1140 420,1170 460,1210 C500,1260 530,1310 555,1360 M190,375 C170,350 150,320 130,290 C110,240 95,195 88,150 C85,125 100,100 125,98 C150,100 175,125 190,150 C230,190 290,250 370,330 C390,310 415,295 440,295 C480,300 520,330 560,370 C600,410 640,455 675,495 C710,500 745,520 765,550 C780,575 785,600 800,615 C820,640 835,670 838,700 C842,770 845,840 850,900 C852,960 855,1010 862,1060 C880,1110 910,1160 940,1215 C965,1260 990,1310 1018,1360" fill="none" stroke="#b9705d" stroke-width="6"/>
  <path d="M190,375 C215,410 240,450 262,490 C245,500 232,510 222,512 C250,520 270,530 285,545 C305,590 320,640 330,690 C325,640 315,590 300,548 C280,500 250,440 190,375 Z" fill="#d49a86"/>
  <path d="M190,375 C230,430 265,485 290,540 C310,590 322,640 330,690 M370,330 C395,360 415,388 430,410 C455,440 480,465 500,487 M675,495 L690,525" fill="none" stroke="#b9705d" stroke-width="6"/>
  <path d="M100,120 C105,105 118,98 130,100 C150,105 170,125 185,150 C168,158 150,163 130,165 C118,162 108,155 102,145 Z" fill="#e6e6e6" stroke="#b5b5b5" stroke-width="4"/>
  <path d="M72,378 C78,362 92,355 108,360 C130,368 150,390 158,415 C145,430 125,442 105,450 C90,432 76,405 72,378 Z" fill="#e6e6e6" stroke="#b5b5b5" stroke-width="4"/>
</g></g>
</g>

<!-- text -->
<g font-size="31.4" fill="#111" xml:space="preserve">
<text x="79.98" y="602.0" textLength="356.52" lengthAdjust="spacingAndGlyphs">Measure window, and cut</text>
<text x="55.00" y="642.0" textLength="410.02" lengthAdjust="spacingAndGlyphs">window film 2-3 cm larger on</text>
<text x="183.93" y="682.0" textLength="155.17" lengthAdjust="spacingAndGlyphs">both sides.</text>
<text x="525.00" y="602.0" textLength="438.03" lengthAdjust="spacingAndGlyphs">Wipe window with damp cloth,</text>
<text x="551.00" y="642.0" textLength="381.00" lengthAdjust="spacingAndGlyphs">then dry to remove any dirt</text>
<text x="677.93" y="682.0" textLength="132.17" lengthAdjust="spacingAndGlyphs">and dust.</text>
<text x="995.97" y="602.0" textLength="420.05" lengthAdjust="spacingAndGlyphs">Evenly spray the window with</text>
<text x="992.49" y="642.0" textLength="428.02" lengthAdjust="spacingAndGlyphs">soapy water. This will make the</text>
<text x="1081.48" y="682.0" textLength="254.07" lengthAdjust="spacingAndGlyphs">application easier.</text>
<text x="1483.48" y="602.0" textLength="423.53" lengthAdjust="spacingAndGlyphs">Peel the window film from the</text>
<text x="1592.95" y="642.0" textLength="210.64" lengthAdjust="spacingAndGlyphs">backing paper.</text>
<text x="41.97" y="1209.5" textLength="440.54" lengthAdjust="spacingAndGlyphs">Line the top of the window film</text>
<text x="42.00" y="1250.0" textLength="442.51" lengthAdjust="spacingAndGlyphs">to the top of the window.  Make</text>
<text x="156.96" y="1290.5" textLength="215.09" lengthAdjust="spacingAndGlyphs">sure it’s square.</text>
<text x="559.48" y="1209.5" textLength="363.52" lengthAdjust="spacingAndGlyphs">Squeegee left to right,  up</text>
<text x="550.48" y="1250.0" textLength="387.54" lengthAdjust="spacingAndGlyphs">and down the window film,</text>
<text x="537.48" y="1290.5" textLength="407.54" lengthAdjust="spacingAndGlyphs">ensuring any air bubbles and</text>
<text x="570.99" y="1331.0" textLength="346.52" lengthAdjust="spacingAndGlyphs">excess water is removed.</text>
<text x="1032.00" y="1209.5" textLength="380.00" lengthAdjust="spacingAndGlyphs">Wipe excess escaped water</text>
<text x="1035.49" y="1250.0" textLength="375.55" lengthAdjust="spacingAndGlyphs">around edges with a cloth.</text>
<text x="1489.98" y="1209.5" textLength="398.54" lengthAdjust="spacingAndGlyphs">Cut excess window film with</text>
<text x="1519.99" y="1250.0" textLength="340.55" lengthAdjust="spacingAndGlyphs">a sharp blade. Job done!</text>
</g>

</svg>
</body>
</html>
